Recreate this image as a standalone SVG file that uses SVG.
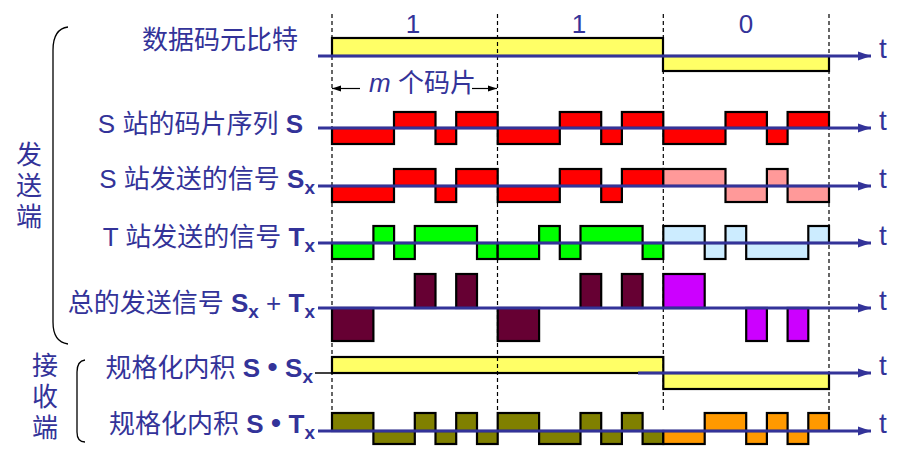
<svg xmlns="http://www.w3.org/2000/svg" width="904" height="460" viewBox="0 0 904 460">
<defs>
<style>
.lbl{font-family:"Liberation Sans","Noto Sans CJK SC",sans-serif;font-size:26px;fill:#333399}
.b{font-weight:bold}
.sub{font-weight:bold;font-size:19px}
.bul{font-size:30px}
.tl{font-size:28px}
.ax{stroke:#333399;stroke-width:3;fill:none}
.p{stroke:#000;stroke-width:2.2}
.dash{stroke:#000;stroke-width:1.2;stroke-dasharray:4 3}
.red{fill:#FF0000}.pink{fill:#FF9999}.grn{fill:#00FF00}.lb{fill:#CCECFF}
.mar{fill:#660033}.mag{fill:#CC00FF}.yel{fill:#FFFF66}.olv{fill:#808000}.org{fill:#FF9900}
</style>
<marker id="arr" markerWidth="14" markerHeight="10" refX="13" refY="5" orient="auto" markerUnits="userSpaceOnUse">
<path d="M0,0.5 L13,5 L0,9.5 z" fill="#333399"/>
</marker>
<marker id="sa" markerWidth="10" markerHeight="8" refX="9" refY="4" orient="auto-start-reverse" markerUnits="userSpaceOnUse">
<path d="M0,1 L9,4 L0,7 z" fill="#000"/>
</marker>
</defs>

<g id="braces" fill="none" stroke="#000" stroke-width="1.3">
<path d="M68,27 Q53,29 53,50 V322 Q53,342 68,344"/>
<path d="M85,360 Q77,361 77,372 V432 Q77,442 85,442"/>
</g>
<g id="side-labels" class="lbl" text-anchor="middle">
<text x="29" y="164">发</text><text x="29" y="195">送</text><text x="29" y="226">端</text>
<text x="45" y="375">接</text><text x="45" y="406">收</text><text x="45" y="437">端</text>
</g>

<g id="row-labels" class="lbl" text-anchor="end">
<text x="298" y="49">数据码元比特</text>
<text x="303" y="133">S 站的码片序列 <tspan class="b">S</tspan></text>
<text x="315" y="188">S 站发送的信号 <tspan class="b">S</tspan><tspan class="sub" dy="6">x</tspan></text>
<text x="315" y="246">T 站发送的信号 <tspan class="b">T</tspan><tspan class="sub" dy="6">x</tspan></text>
<text x="315" y="312">总的发送信号 <tspan class="b">S</tspan><tspan class="sub" dy="6">x</tspan><tspan dy="-6"> + </tspan><tspan class="b">T</tspan><tspan class="sub" dy="6">x</tspan></text>
<text x="313" y="377">规格化内积 <tspan class="b">S</tspan> <tspan class="bul">•</tspan> <tspan class="b">S</tspan><tspan class="sub" dy="6">x</tspan></text>
<text x="315" y="433">规格化内积 <tspan class="b">S</tspan> <tspan class="bul">•</tspan> <tspan class="b">T</tspan><tspan class="sub" dy="6">x</tspan></text>
</g>

<g id="bit-labels" class="lbl" text-anchor="middle">
<text x="413" y="33">1</text><text x="579" y="33">1</text><text x="746" y="33">0</text>
</g>

<g id="chip-span">
<line x1="332" y1="88.5" x2="360" y2="88.5" stroke="#000" stroke-width="1.2" marker-start="url(#sa)"/>
<line x1="472" y1="88.5" x2="497" y2="88.5" stroke="#000" stroke-width="1.2" marker-end="url(#sa)"/>
<text class="lbl" x="369" y="92"><tspan font-style="italic">m</tspan> 个码片</text>
</g>

<g id="row-data" class="p">
<rect class="yel" x="332" y="38" width="331" height="18"/>
<rect class="yel" x="663" y="56" width="166" height="15"/>
</g>

<g id="row-S" class="p">
<rect class="red" x="332" y="128" width="62" height="16"/>
<rect class="red" x="394" y="112" width="41.5" height="16"/>
<rect class="red" x="435.5" y="128" width="20.7" height="16"/>
<rect class="red" x="456.2" y="112" width="41.5" height="16"/>
<rect class="red" x="497.7" y="128" width="62.1" height="16"/>
<rect class="red" x="559.8" y="112" width="41.4" height="16"/>
<rect class="red" x="601.2" y="128" width="20.7" height="16"/>
<rect class="red" x="621.9" y="112" width="41.4" height="16"/>
<rect class="red" x="663.3" y="128" width="62.2" height="16"/>
<rect class="red" x="725.5" y="112" width="41.4" height="16"/>
<rect class="red" x="766.9" y="128" width="20.7" height="16"/>
<rect class="red" x="787.6" y="112" width="41.4" height="16"/>
</g>

<g id="row-Sx" class="p">
<rect class="red" x="332" y="186" width="62" height="16"/>
<rect class="red" x="394" y="169" width="41.5" height="17"/>
<rect class="red" x="435.5" y="186" width="20.7" height="16"/>
<rect class="red" x="456.2" y="169" width="41.5" height="17"/>
<rect class="red" x="497.7" y="186" width="62.1" height="16"/>
<rect class="red" x="559.8" y="169" width="41.4" height="17"/>
<rect class="red" x="601.2" y="186" width="20.7" height="16"/>
<rect class="red" x="621.9" y="169" width="41.4" height="17"/>
<rect class="pink" x="663.3" y="169" width="62.2" height="17"/>
<rect class="pink" x="725.5" y="186" width="41.4" height="16"/>
<rect class="pink" x="766.9" y="169" width="20.7" height="17"/>
<rect class="pink" x="787.6" y="186" width="41.4" height="16"/>
</g>

<g id="row-Tx" class="p">
<rect class="grn" x="332" y="243" width="41.4" height="16"/>
<rect class="grn" x="373.4" y="226" width="20.7" height="17"/>
<rect class="grn" x="394.1" y="243" width="20.7" height="16"/>
<rect class="grn" x="414.8" y="226" width="62.2" height="17"/>
<rect class="grn" x="477" y="243" width="20.7" height="16"/>
<rect class="grn" x="497.7" y="243" width="41.4" height="16"/>
<rect class="grn" x="539.1" y="226" width="20.7" height="17"/>
<rect class="grn" x="559.8" y="243" width="20.7" height="16"/>
<rect class="grn" x="580.5" y="226" width="62.1" height="17"/>
<rect class="grn" x="642.6" y="243" width="20.7" height="16"/>
<rect class="lb" x="663.3" y="226" width="41.4" height="17"/>
<rect class="lb" x="704.7" y="243" width="20.8" height="16"/>
<rect class="lb" x="725.5" y="226" width="20.7" height="17"/>
<rect class="lb" x="746.2" y="243" width="62.1" height="16"/>
<rect class="lb" x="808.3" y="226" width="20.7" height="17"/>
</g>

<g id="row-sum" class="p">
<rect class="mar" x="332" y="308" width="41.4" height="33"/>
<rect class="mar" x="414.8" y="274" width="20.7" height="34"/>
<rect class="mar" x="456.2" y="274" width="20.8" height="34"/>
<rect class="mar" x="497.7" y="308" width="41.4" height="33"/>
<rect class="mar" x="580.5" y="274" width="20.7" height="34"/>
<rect class="mar" x="621.9" y="274" width="20.7" height="34"/>
<rect class="mag" x="663.3" y="274" width="41.4" height="34"/>
<rect class="mag" x="746.2" y="308" width="20.7" height="33"/>
<rect class="mag" x="787.6" y="308" width="20.7" height="33"/>
</g>

<g id="row-SSx" class="p">
<rect class="yel" x="332" y="357" width="331.3" height="16"/>
<rect class="yel" x="663.3" y="373" width="165.7" height="16"/>
</g>

<g id="row-STx" class="p">
<rect class="olv" x="332" y="413" width="41.4" height="18"/>
<rect class="olv" x="373.4" y="431" width="41.4" height="13"/>
<rect class="olv" x="414.8" y="413" width="20.7" height="18"/>
<rect class="olv" x="435.5" y="431" width="20.7" height="13"/>
<rect class="olv" x="456.2" y="413" width="20.8" height="18"/>
<rect class="olv" x="477" y="431" width="20.7" height="13"/>
<rect class="olv" x="497.7" y="413" width="41.4" height="18"/>
<rect class="olv" x="539.1" y="431" width="41.4" height="13"/>
<rect class="olv" x="580.5" y="413" width="20.7" height="18"/>
<rect class="olv" x="601.2" y="431" width="20.7" height="13"/>
<rect class="olv" x="621.9" y="413" width="20.7" height="18"/>
<rect class="olv" x="642.6" y="431" width="20.7" height="13"/>
<rect class="org" x="663.3" y="431" width="41.4" height="13"/>
<rect class="org" x="704.7" y="413" width="41.5" height="18"/>
<rect class="org" x="746.2" y="431" width="20.7" height="13"/>
<rect class="org" x="766.9" y="413" width="20.7" height="18"/>
<rect class="org" x="787.6" y="431" width="20.7" height="13"/>
<rect class="org" x="808.3" y="413" width="20.7" height="18"/>
</g>

<g id="dashes">
<line class="dash" x1="332" y1="14" x2="332" y2="413"/>
<line class="dash" x1="497.5" y1="14" x2="497.5" y2="413"/>
<line class="dash" x1="663.3" y1="14" x2="663.3" y2="413"/>
<line class="dash" x1="829" y1="14" x2="829" y2="413"/>
</g>

<g id="connectors">
<line class="ax" x1="318" y1="56" x2="871" y2="56" marker-end="url(#arr)"/>
<line class="ax" x1="318" y1="128" x2="871" y2="128" marker-end="url(#arr)"/>
<line class="ax" x1="318" y1="186" x2="871" y2="186" marker-end="url(#arr)"/>
<line class="ax" x1="318" y1="243" x2="871" y2="243" marker-end="url(#arr)"/>
<line class="ax" x1="318" y1="308" x2="871" y2="308" marker-end="url(#arr)"/>
<line x1="315" y1="373" x2="638" y2="373" stroke="#000" stroke-width="1.5"/>
<line class="ax" x1="638" y1="373" x2="871" y2="373" marker-end="url(#arr)"/>
<line class="ax" x1="318" y1="431" x2="871" y2="431" marker-end="url(#arr)"/>
</g>

<g id="t-labels" class="lbl tl">
<text x="879" y="58">t</text><text x="879" y="130">t</text><text x="879" y="188">t</text>
<text x="879" y="245">t</text><text x="879" y="310">t</text><text x="879" y="375">t</text><text x="879" y="433">t</text>
</g>
</svg>
